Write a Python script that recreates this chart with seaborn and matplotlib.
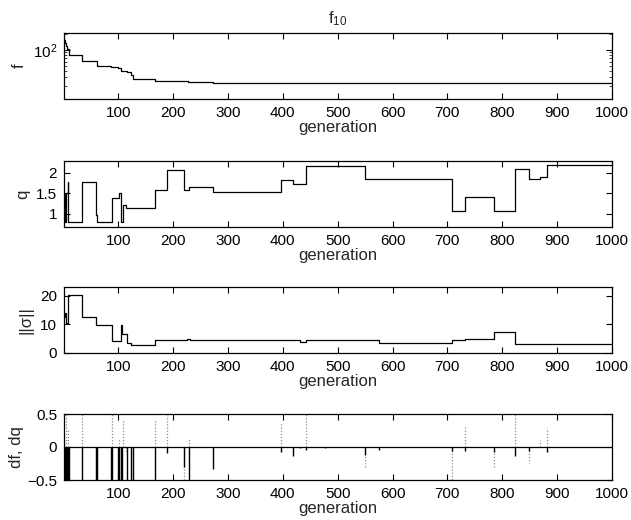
import numpy as np
import pandas as pd
import seaborn as sns
import matplotlib
matplotlib.use("Agg")
import matplotlib.pyplot as plt
from matplotlib.ticker import FixedLocator, NullFormatter, LogLocator

# ---------------- data ----------------
f_gen = [1, 3, 5, 7, 11, 33, 62, 86, 100, 104, 116, 123, 127, 166, 227, 272, 550, 1000]
f_val = [155, 136, 119, 104, 80, 61, 49.2, 47.1, 44.5, 40, 37.7, 33, 27.7, 25.7, 24.2, 23.2, 22.7, 22.7]

q_gen = [1, 3, 5, 8, 9, 33, 59, 62, 88, 102, 105, 108, 114, 166, 189, 220, 229, 272,
         397, 418, 443, 549, 708, 732, 785, 824, 849, 868, 882, 1000]
q_val = [1.5, 0.8, 1.5, 1.78, 0.8, 1.78, 0.98, 0.81, 1.38, 1.5, 0.81, 1.22, 1.15, 1.58,
         2.07, 1.58, 1.66, 1.52, 1.81, 1.72, 2.17, 1.85, 1.08, 1.40, 1.08, 2.09, 1.84,
         1.89, 2.19, 2.19]

s_gen = [1, 3, 4, 9, 33, 59, 88, 105, 106, 116, 123, 166, 225, 230, 432, 443, 575, 708,
         732, 785, 824, 1000]
s_val = [12.6, 13.8, 10.3, 20.2, 12.4, 9.7, 4.1, 9.7, 6.5, 3.5, 2.7, 4.7, 4.9, 4.7, 3.8,
         4.7, 3.5, 4.7, 5.0, 7.3, 3.0, 3.0]

df_gen = [2, 3, 5, 7, 9, 10, 33, 59, 62, 86, 88, 100, 102, 104, 106, 116, 123, 127, 166,
          189, 220, 229, 272, 397, 418, 432, 443, 476, 550, 575, 708, 732, 785, 824, 849, 882]
df_val = [-0.5, -0.5, -0.5, -0.5, -0.5, -0.5, -0.5, -0.5, -0.5, -0.5, -0.5, -0.5, -0.5,
          -0.5, -0.5, -0.5, -0.5, -0.5, -0.5, -0.09, -0.30, -0.5, -0.33, -0.07, -0.13,
          -0.02, -0.04, -0.01, -0.12, -0.04, -0.06, -0.06, -0.08, -0.14, -0.06, -0.07]

dq_gen = [3, 5, 8, 9, 33, 59, 62, 88, 102, 105, 108, 114, 166, 189, 220, 229, 272, 397,
          418, 443, 549, 708, 732, 785, 824, 849, 868, 882]
dq_val = [-0.7, 0.7, 0.28, -0.98, 0.98, -0.8, -0.17, 0.57, 0.12, -0.7, 0.42, -0.07, 0.43,
          0.49, -0.49, 0.12, -0.14, 0.36, -0.09, 0.5, -0.34, -0.77, 0.34, -0.33, 1.01,
          -0.24, 0.1, 0.29]

x_ticks = [100, 200, 300, 400, 500, 600, 700, 800, 900, 1000]

# ---------------- style ----------------
sns.set_style("ticks")
plt.rcParams["font.family"] = ["Liberation Sans", "DejaVu Sans"]
plt.rcParams["mathtext.fontset"] = "custom"
plt.rcParams["mathtext.rm"] = "Liberation Sans"
plt.rcParams["mathtext.it"] = "Liberation Sans"
plt.rcParams["font.size"] = 11
plt.rcParams["axes.linewidth"] = 0.9
plt.rcParams["axes.edgecolor"] = "black"

fig = plt.figure(figsize=(6.31, 5.2), dpi=100)
W = 631.0
H = 520.0
left = 64 / W
width = (612 - 64) / W
tops = [33, 161, 287, 414]
axes = []
for t in tops:
    ax = fig.add_axes([left, 1 - (t + 66) / H, width, 66 / H])
    axes.append(ax)


def style(ax):
    ax.set_xlim(1, 1000)
    ax.set_xticks(x_ticks)
    ax.tick_params(direction="in", top=True, right=True, length=4, width=0.8,
                   labelsize=11, colors="black", pad=5)
    ax.tick_params(which="minor", direction="in", left=True, right=True, length=2.5, width=0.6)
    for s in ax.spines.values():
        s.set_visible(True)
        s.set_color("black")
    ax.set_xlabel("generation", fontsize=12, labelpad=0)


# panel 1: f (log)
ax = axes[0]
d1 = pd.DataFrame({"generation": f_gen, "f": f_val})
sns.lineplot(data=d1, x="generation", y="f", ax=ax, color="black", lw=0.9,
             drawstyle="steps-post", estimator=None)
ax.set_yscale("log")
ax.set_ylim(11.4, 212)
ax.yaxis.set_major_locator(FixedLocator([100]))
ax.yaxis.set_minor_locator(LogLocator(base=10, subs=np.arange(2, 10)))
ax.yaxis.set_minor_formatter(NullFormatter())
style(ax)
ax.set_ylabel("f", fontsize=12)
ax.set_title("f$_{10}$", fontsize=12, pad=7)

# panel 2: q
ax = axes[1]
d2 = pd.DataFrame({"generation": q_gen, "q": q_val})
sns.lineplot(data=d2, x="generation", y="q", ax=ax, color="black", lw=0.9,
             drawstyle="steps-post", estimator=None)
ax.set_ylim(0.685, 2.28)
ax.set_yticks([1, 1.5, 2])
ax.set_yticklabels(["1", "1.5", "2"])
style(ax)
ax.set_ylabel("q", fontsize=12)

# panel 3: sigma
ax = axes[2]
d3 = pd.DataFrame({"generation": s_gen, "s": s_val})
sns.lineplot(data=d3, x="generation", y="s", ax=ax, color="black", lw=0.9,
             drawstyle="steps-post", estimator=None)
ax.set_ylim(0, 23)
ax.set_yticks([0, 10, 20])
style(ax)
ax.set_ylabel("||σ||", fontsize=12)

# panel 4: df, dq
ax = axes[3]
ax.vlines(dq_gen, 0, dq_val, colors="#8c8c8c", linestyles=(0, (1, 1.5)), lw=0.9)
ax.vlines(df_gen, 0, df_val, colors="black", lw=1.0)
d4 = pd.DataFrame({"generation": [1, 1000], "zero": [0, 0]})
sns.lineplot(data=d4, x="generation", y="zero", ax=ax, color="black", lw=0.9, estimator=None)
ax.set_ylim(-0.5, 0.5)
ax.set_yticks([-0.5, 0, 0.5])
ax.set_yticklabels(["\u22120.5", "0", "0.5"])
style(ax)
ax.set_ylabel("df, dq", fontsize=12)

ylab_x = [-0.068, -0.061, -0.055, -0.073]
for a, xx in zip(axes, ylab_x):
    a.yaxis.set_label_coords(xx, 0.5)

fig.savefig("out.png", dpi=100)
